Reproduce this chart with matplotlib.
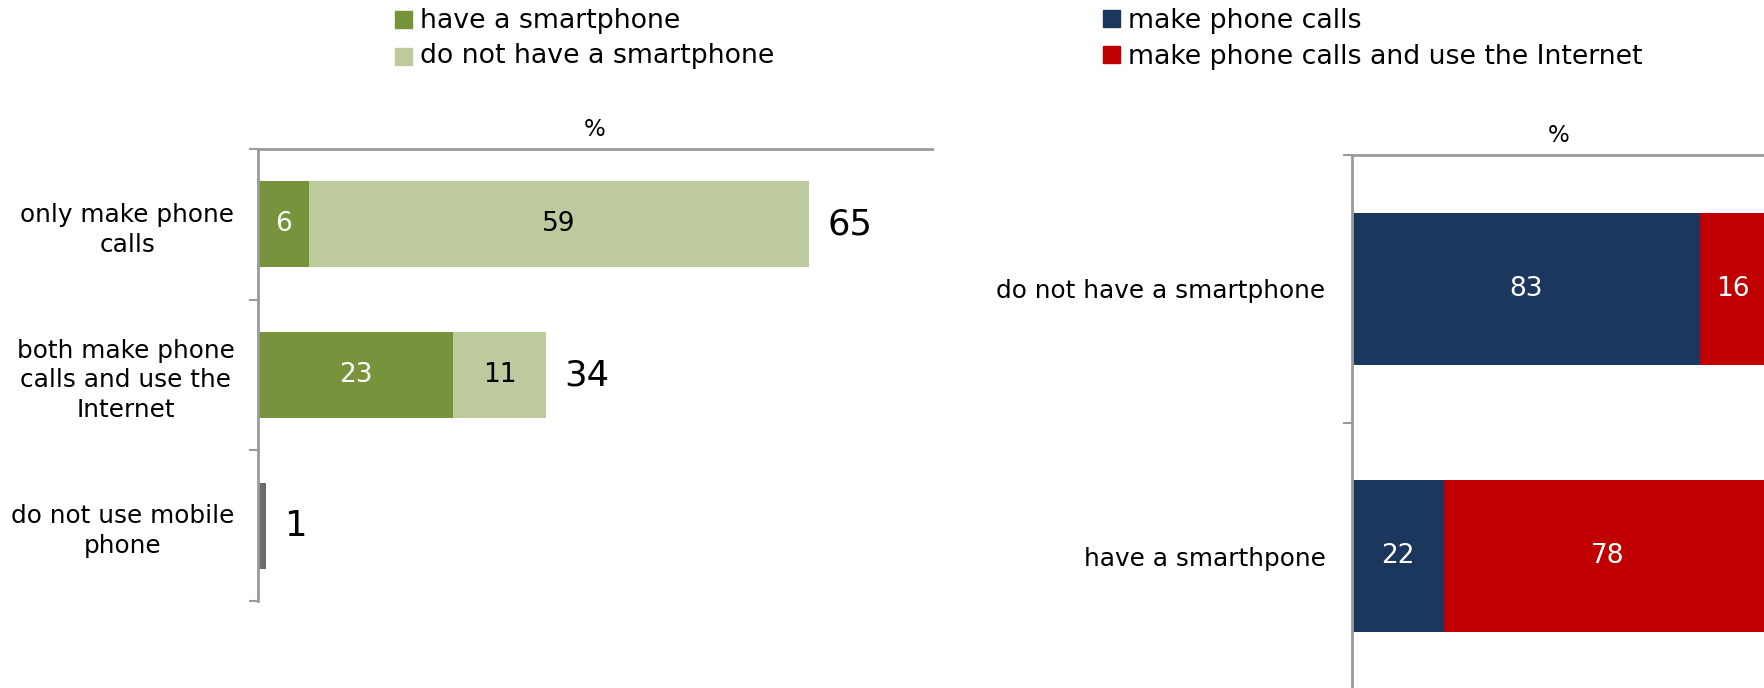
import numpy as np
import matplotlib
matplotlib.use("Agg")
import matplotlib.pyplot as plt
from matplotlib.patches import Rectangle

# left panel: how people use their mobile phone, split by smartphone ownership
left_cats = ["only make phone\ncalls",
             "both make phone\ncalls and use the\nInternet",
             "do not use mobile\nphone"]
have_smart = [6, 23, 0]
no_smart = [59, 11, 0]
no_mobile = [0, 0, 1]

# right panel: phone usage within each ownership group
right_cats = ["do not have a smartphone", "have a smarthpone"]
calls_only = [83, 22]
calls_internet = [16, 78]

GREEN = "#77933C"
LGREEN = "#BDCA9E"
GREY_BAR = "#6C6C6C"
NAVY = "#1B375E"
RED = "#C00000"
AXIS = "#9A9A9A"

W, H = 1765, 688
fig = plt.figure(figsize=(W / 100, H / 100), dpi=100)


def px_box(x0, y0, x1, y1):
    # pixel box (top-left origin) -> figure fraction rect
    return [x0 / W, 1 - y1 / H, (x1 - x0) / W, (y1 - y0) / H]


def style_axes(ax, n, pad):
    for s in ("right", "bottom"):
        ax.spines[s].set_visible(False)
    for s in ("left", "top"):
        ax.spines[s].set_color(AXIS)
        ax.spines[s].set_linewidth(2)
    ax.set_ylim(n - 0.5, -0.5)
    ax.set_xticks([])
    ax.set_yticks(np.arange(n + 1) - 0.5)
    ax.set_yticklabels([])
    ax.tick_params(axis="y", which="major", direction="out", length=6.5,
                   width=1.5, color=AXIS)
    ax.set_yticks(np.arange(n), minor=True)
    ax.tick_params(axis="y", which="minor", length=0, pad=pad, labelsize=17.8)
    ax.set_title("%", fontsize=16.5, pad=9)


def seg_labels(ax, bars, values, color):
    for b, v in zip(bars, values):
        if v:
            ax.text(b.get_x() + b.get_width() / 2, b.get_y() + b.get_height() / 2,
                    str(v), ha="center", va="center", fontsize=19, color=color)


# ---- left chart ----
ax1 = fig.add_axes(px_box(258, 149, 932, 601))
y1 = np.arange(len(left_cats))
h = 0.57
b_have = ax1.barh(y1, have_smart, height=h, color=GREEN, linewidth=0)
b_not = ax1.barh(y1, no_smart, left=have_smart, height=h, color=LGREEN, linewidth=0)
ax1.barh(y1, no_mobile, height=h, color=GREY_BAR, linewidth=0)
ax1.set_xlim(0, 79.5)
style_axes(ax1, len(left_cats), 17)
ax1.set_yticklabels(left_cats, minor=True, multialignment="center", linespacing=1.3)
seg_labels(ax1, b_have, have_smart, "white")
seg_labels(ax1, b_not, no_smart, "black")
totals = np.array(have_smart) + np.array(no_smart) + np.array(no_mobile)
for yi, t in zip(y1, totals):
    ax1.annotate(str(t), (t, yi), xytext=(13, 0), textcoords="offset points",
                 ha="left", va="center", fontsize=25.5)

# ---- right chart ----
ax2 = fig.add_axes(px_box(1352, 155, 1765, 690))
y2 = np.arange(len(right_cats))
b_calls = ax2.barh(y2, calls_only, height=h, color=NAVY, linewidth=0)
b_net = ax2.barh(y2, calls_internet, left=calls_only, height=h, color=RED, linewidth=0)
ax2.set_xlim(0, 98.6)
style_axes(ax2, len(right_cats), 19)
ax2.set_yticklabels(right_cats, minor=True)
seg_labels(ax2, b_calls, calls_only, "white")
seg_labels(ax2, b_net, calls_internet, "white")


# ---- legends ----
def legend_entry(x, top, color, label, baseline):
    fig.patches.append(Rectangle((x / W, 1 - (top + 16) / H), 17 / W, 16 / H,
                                 transform=fig.transFigure, color=color))
    fig.text((x + 25) / W, 1 - baseline / H, label, fontsize=19.3, va="baseline")


legend_entry(395, 11.5, GREEN, "have a smartphone", 28)
legend_entry(395, 48.5, LGREEN, "do not have a smartphone", 63)
legend_entry(1103, 10.5, NAVY, "make phone calls", 28.5)
legend_entry(1103, 46.5, RED, "make phone calls and use the Internet", 63.5)

fig.savefig("out.png", dpi=100)
